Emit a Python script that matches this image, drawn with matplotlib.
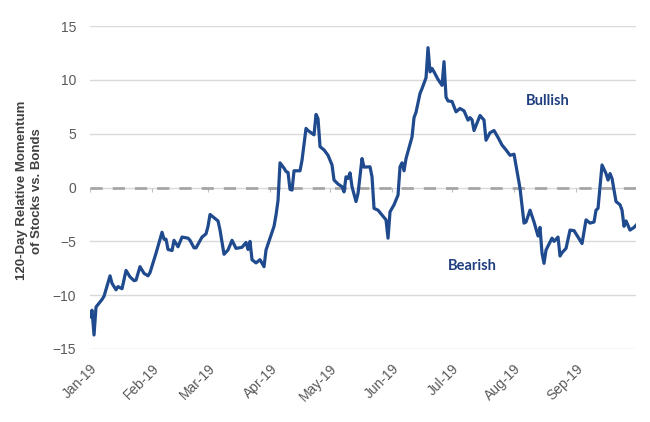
import pandas as pd
import matplotlib
matplotlib.use('Agg')
import matplotlib.pyplot as plt
import matplotlib.dates as mdates

# 120-day relative momentum, stocks vs bonds
dates = [
    '2019-01-01', '2019-01-02', '2019-01-03', '2019-01-04', '2019-01-07', '2019-01-08',
    '2019-01-11', '2019-01-12', '2019-01-14', '2019-01-15', '2019-01-17', '2019-01-19',
    '2019-01-21', '2019-01-23', '2019-01-24', '2019-01-26', '2019-01-28', '2019-01-30',
    '2019-01-31',
    '2019-02-03', '2019-02-06', '2019-02-07', '2019-02-08', '2019-02-09', '2019-02-11',
    '2019-02-12', '2019-02-14', '2019-02-16', '2019-02-19', '2019-02-20', '2019-02-22',
    '2019-02-23', '2019-02-26', '2019-02-28',
    '2019-03-01', '2019-03-02', '2019-03-04', '2019-03-06', '2019-03-07', '2019-03-09',
    '2019-03-11', '2019-03-13', '2019-03-15', '2019-03-18', '2019-03-20', '2019-03-21',
    '2019-03-22', '2019-03-23', '2019-03-25', '2019-03-27', '2019-03-29', '2019-03-30',
    '2019-04-01', '2019-04-03', '2019-04-04', '2019-04-05', '2019-04-06', '2019-04-08',
    '2019-04-09', '2019-04-10', '2019-04-11', '2019-04-12', '2019-04-13', '2019-04-16',
    '2019-04-17', '2019-04-19', '2019-04-20', '2019-04-23', '2019-04-24', '2019-04-25',
    '2019-04-26', '2019-04-28', '2019-04-30',
    '2019-05-02', '2019-05-03', '2019-05-05', '2019-05-07', '2019-05-08', '2019-05-09',
    '2019-05-10', '2019-05-11', '2019-05-12', '2019-05-14', '2019-05-15', '2019-05-17',
    '2019-05-18', '2019-05-21', '2019-05-22', '2019-05-23', '2019-05-25', '2019-05-27',
    '2019-05-29', '2019-05-30', '2019-05-31',
    '2019-06-02', '2019-06-04', '2019-06-05', '2019-06-06', '2019-06-07', '2019-06-08',
    '2019-06-11', '2019-06-12', '2019-06-13', '2019-06-15', '2019-06-16', '2019-06-18',
    '2019-06-19', '2019-06-20', '2019-06-21', '2019-06-22', '2019-06-24', '2019-06-26',
    '2019-06-27', '2019-06-28', '2019-06-29',
    '2019-07-01', '2019-07-03', '2019-07-05', '2019-07-07', '2019-07-09', '2019-07-10',
    '2019-07-11', '2019-07-12', '2019-07-15', '2019-07-17', '2019-07-18', '2019-07-20',
    '2019-07-22', '2019-07-24', '2019-07-26', '2019-07-28', '2019-07-30',
    '2019-08-01', '2019-08-04', '2019-08-06', '2019-08-07', '2019-08-09', '2019-08-11',
    '2019-08-13', '2019-08-14', '2019-08-15', '2019-08-16', '2019-08-17', '2019-08-20',
    '2019-08-21', '2019-08-23', '2019-08-24', '2019-08-25', '2019-08-27', '2019-08-29',
    '2019-08-31',
    '2019-09-04', '2019-09-06', '2019-09-08', '2019-09-10', '2019-09-11', '2019-09-12',
    '2019-09-14', '2019-09-16', '2019-09-17', '2019-09-18', '2019-09-19', '2019-09-21',
    '2019-09-23', '2019-09-24', '2019-09-25', '2019-09-26', '2019-09-28', '2019-09-30',
    '2019-10-01',
]
momentum = [
    -12.0, -11.4, -13.7, -11.1, -10.4, -10.1,
    -8.2, -8.9, -9.5, -9.2, -9.4, -7.7,
    -8.3, -8.65, -8.6, -7.35, -7.97, -8.2,
    -7.9,
    -6.1, -4.15, -4.8, -4.8, -5.75, -5.85,
    -4.9, -5.5, -4.6, -4.7, -4.9, -5.6,
    -5.6, -4.6, -4.3,
    -3.6, -2.5, -2.8, -3.1, -3.95, -6.2,
    -5.8, -4.9, -5.65, -5.55, -5.1, -5.75,
    -5.0, -6.7, -7.0, -6.7, -7.35, -5.8,
    -4.7, -3.6, -2.55, -1.2, 2.3, 1.8,
    1.5, 1.4, -0.17, -0.23, 1.56, 1.56,
    2.55, 5.5, 5.3, 4.9, 6.8, 6.4,
    3.8, 3.5, 3.0,
    2.1, 0.7, 0.33, 0.08, -0.4, 1.0,
    0.85, 1.37, 0.07, -1.3, -0.54, 2.7,
    1.9, 1.93, 1.0, -1.93, -2.1, -2.55,
    -3.0, -4.7, -2.25,
    -1.6, -0.7, 1.93, 2.3, 1.56, 2.7,
    4.7, 6.5, 7.0, 8.75, 9.2, 10.2,
    13.0, 10.75, 11.07, 10.75, 10.05, 9.5,
    11.7, 8.4, 8.05,
    8.0, 7.04, 7.35, 7.13, 6.27, 6.5,
    6.3, 5.3, 6.7, 6.27, 4.4, 5.1,
    5.3, 4.66, 3.95, 3.5, 3.0,
    3.1, -0.07, -3.3, -3.2, -2.1, -3.2,
    -4.5, -3.7, -6.1, -7.04, -5.8, -4.7,
    -5.0, -4.6, -6.36, -6.05, -5.65, -3.95,
    -4.0,
    -5.2, -3.0, -3.3, -3.2, -2.1, -1.93,
    2.1, 1.3, 0.7, 1.3, 0.85, -1.3,
    -1.6, -2.1, -3.6, -3.1, -3.95, -3.7,
    -3.5,
]
y_ticks = [-15, -10, -5, 0, 5, 10, 15]

df = pd.DataFrame({'date': pd.to_datetime(dates), 'momentum': momentum})
months = pd.date_range('2019-01-01', '2019-09-01', freq='MS')

fig = plt.figure(figsize=(6.5, 4.22), dpi=100)
ax = fig.add_axes([0.1385, 0.173, 0.840, 0.765])

ax.set_ylim(-15, 15)
ax.set_xlim(pd.Timestamp('2019-01-01'), pd.Timestamp('2019-10-01'))
ax.set_yticks(y_ticks)
ax.grid(axis='y', color='#d9d9d9', linewidth=1)
ax.set_axisbelow(True)

# zero line with month ticks, then dashed overlay
ax.vlines(months, -0.4, 0, color='#bfbfbf', linewidth=0.8, zorder=1)
ax.axhline(0, color='#a6a6a6', linewidth=2, linestyle=(0, (4.4, 3.6)), zorder=2)

ax.plot(df['date'], df['momentum'], color='#1f4a8e', linewidth=2.3, zorder=3)

ax.xaxis.set_major_locator(mdates.MonthLocator())
ax.xaxis.set_major_formatter(mdates.DateFormatter('%b-%y'))
ax.set_xticks(months)
for lbl in ax.get_xticklabels():
    lbl.set_rotation(45)
    lbl.set_ha('right')
    lbl.set_rotation_mode('anchor')

ax.tick_params(axis='both', length=0, labelsize=10, labelcolor='#595959')
ax.tick_params(axis='x', pad=9)
ax.tick_params(axis='y', pad=10)
for lbl in ax.get_xticklabels() + ax.get_yticklabels():
    lbl.set_family('Liberation Sans')

for s in ax.spines.values():
    s.set_visible(False)

ax.set_ylabel('120-Day Relative Momentum\nof Stocks vs. Bonds', fontsize=9.5,
              fontweight='bold', color='#404040', family='Liberation Sans',
              linespacing=1.35)
ax.yaxis.set_label_coords(-0.086, 0.49)

ax.text(0.839, 0.768, 'Bullish', transform=ax.transAxes, ha='center', va='center',
        fontsize=10.5, fontweight='bold', color='#1f3f7f', family='Lato')
ax.text(0.70, 0.257, 'Bearish', transform=ax.transAxes, ha='center', va='center',
        fontsize=10.5, fontweight='bold', color='#1f3f7f', family='Lato')

plt.savefig('out.png', dpi=100)
